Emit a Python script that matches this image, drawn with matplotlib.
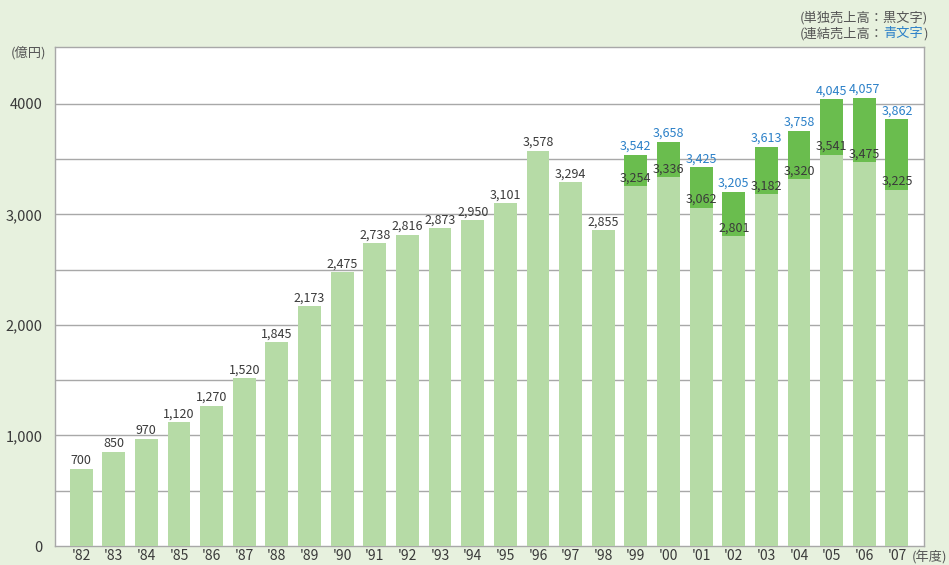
import numpy as np
import matplotlib.pyplot as plt
from matplotlib.ticker import FixedLocator

plt.rcParams['font.family'] = ['Noto Sans CJK JP', 'DejaVu Sans']

years = ["'82", "'83", "'84", "'85", "'86", "'87", "'88", "'89", "'90", "'91", "'92", "'93", "'94",
         "'95", "'96", "'97", "'98", "'99", "'00", "'01", "'02", "'03", "'04", "'05", "'06", "'07"]
# 単独売上高
standalone = [700, 850, 970, 1120, 1270, 1520, 1845, 2173, 2475, 2738, 2816, 2873, 2950,
              3101, 3578, 3294, 2855, 3254, 3336, 3062, 2801, 3182, 3320, 3541, 3475, 3225]
# 連結売上高 ('99〜)
consol_years = ["'99", "'00", "'01", "'02", "'03", "'04", "'05", "'06", "'07"]
consolidated = [3542, 3658, 3425, 3205, 3613, 3758, 4045, 4057, 3862]

bg = '#e7f1de'
light = '#b6dba6'
dark = '#6abd4e'
blue = '#2b80c8'
txt = '#3a3a3a'
gray = '#555555'

fig = plt.figure(figsize=(9.49, 5.65), dpi=100, facecolor=bg)
ax = fig.add_axes([55/949, 19/565, (924-55)/949, (546-47)/565])
ax.set_facecolor('white')

x = np.arange(len(years))
cx = np.array([years.index(y) for y in consol_years])
w = 0.70

ax.bar(cx, consolidated, width=w, color=dark, zorder=2)
ax.bar(x, standalone, width=w, color=light, zorder=3)

consol_map = dict(zip(consol_years, consolidated))
for i, (yr, v) in enumerate(zip(years, standalone)):
    ax.text(i, v + 15, f'{v:,}', ha='center', va='bottom', fontsize=9, color=txt, zorder=4)
    if yr in consol_map:
        c = consol_map[yr]
        ax.text(i, c + 15, f'{c:,}', ha='center', va='bottom', fontsize=9, color=blue, zorder=4)

ax.set_xlim(-0.8, 25.83)
ax.set_ylim(0, 4515)
ax.set_xticks(x)
ax.set_xticklabels(years, fontsize=10, color=txt)
ax.yaxis.set_major_locator(FixedLocator([0, 1000, 2000, 3000, 4000]))
ax.set_yticklabels(['0', '1,000', '2,000', '3,000', '4000'], fontsize=10.5, color=txt)
ax.tick_params(axis='x', length=0, pad=2.5)
ax.tick_params(axis='y', length=0, pad=9)
for g in range(500, 4001, 500):
    ax.axhline(g, color='#a8a8a8', lw=1.0, zorder=1)
for s in ax.spines.values():
    s.set_color('#a8a8a8')
    s.set_linewidth(1.0)

fig.text(11/949, 1 - 53/565, '(億円)', fontsize=9.5, color=gray, va='center', ha='left')
fig.text(947/949, 1 - 557/565, '(年度)', fontsize=9.5, color=gray, va='center', ha='right')

fig.text(928/949, 1 - 18/565, '(単独売上高：黒文字)', fontsize=9.5, color=gray,
         ha='right', va='center')
t3 = fig.text(928/949, 1 - 34/565, ')', fontsize=9.5, color=gray, ha='right', va='center')
t2 = ax.annotate('青文字', xy=(0, 0), xycoords=t3, ha='right', va='bottom',
                 fontsize=9.5, color=blue, annotation_clip=False)
ax.annotate('(連結売上高：', xy=(0, 0), xycoords=t2, ha='right', va='bottom',
            fontsize=9.5, color=gray, annotation_clip=False)

fig.savefig('out.png', dpi=100, facecolor=bg)
